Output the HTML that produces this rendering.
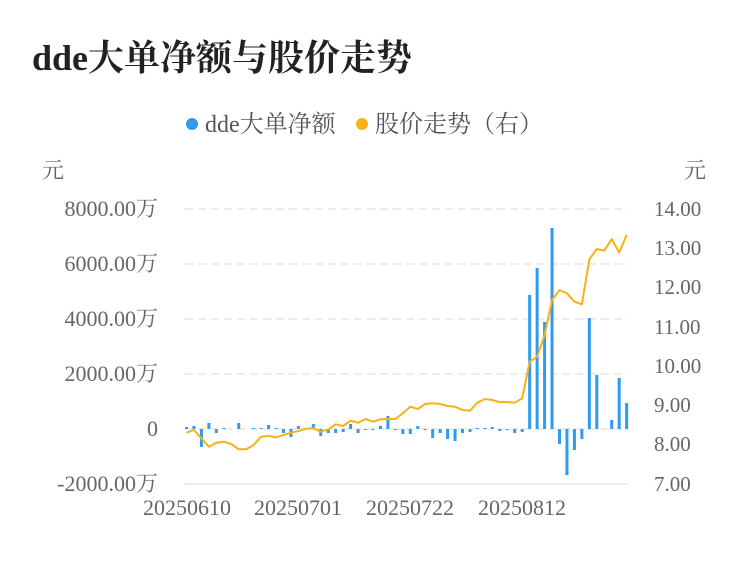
<!DOCTYPE html>
<html><head><meta charset="utf-8"><style>
body{margin:0;background:#fff;}
</style></head><body>
<svg width="750" height="558" xmlns="http://www.w3.org/2000/svg" font-family="'Liberation Serif','Noto Serif CJK SC',serif">
<text x="32" y="70" font-size="36" font-weight="bold" fill="#222">dde大单净额与股价走势</text>
<circle cx="192" cy="124" r="6" fill="#2e9bf0"/>
<text x="205" y="132" font-size="24" fill="#555">dde大单净额</text>
<circle cx="362" cy="124" r="6" fill="#f7b217"/>
<text x="375" y="132" font-size="24" fill="#555">股价走势（右）</text>
<text x="42" y="178" font-size="22" fill="#666">元</text>
<text x="684" y="178" font-size="22" fill="#666">元</text>
<g stroke="#e6e6e6" stroke-width="1.5" stroke-dasharray="8,5">
<line x1="185" y1="209" x2="628" y2="209"/><line x1="185" y1="264" x2="628" y2="264"/>
<line x1="185" y1="319" x2="628" y2="319"/><line x1="185" y1="374" x2="628" y2="374"/>
<line x1="185" y1="429" x2="628" y2="429"/></g>
<line x1="185" y1="484" x2="628" y2="484" stroke="#e6e6e6" stroke-width="1.5"/>
<g font-size="22" fill="#666" text-anchor="end">
<text x="158" y="216">8000.00万</text><text x="158" y="271">6000.00万</text>
<text x="158" y="326">4000.00万</text><text x="158" y="381">2000.00万</text>
<text x="158" y="436">0</text><text x="158" y="491">-2000.00万</text></g>
<g font-size="21" fill="#666">
<text x="654" y="216">14.00</text><text x="654" y="255">13.00</text><text x="654" y="294">12.00</text>
<text x="654" y="334">11.00</text><text x="654" y="373">10.00</text><text x="654" y="412">9.00</text>
<text x="654" y="451">8.00</text><text x="654" y="491">7.00</text></g>
<g font-size="22" fill="#666" text-anchor="middle">
<text x="187" y="515">20250610</text><text x="298" y="515">20250701</text>
<text x="410" y="515">20250722</text><text x="522" y="515">20250812</text></g>
<g id="bars" fill="#2e9bf0"></g>
<polyline id="line" fill="none" stroke="#f7b217" stroke-width="2" stroke-linejoin="round"/>
</svg>
<script>
var b={0:427,1:426,2:447,3:423,4:433,5:428,7:423,9:428,10:428,11:425,12:428,13:433,14:437,15:426,16:428,17:424,18:436,19:433,20:433,21:432,22:424,23:433,24:430,25:430,26:426,27:416,28:430,29:434,30:434,31:426,32:430,33:438,34:433,35:439,36:441,37:433,38:432,39:428,40:428,41:427,42:431,43:430,44:433,45:432,46:295,47:268,48:322,49:228,50:444,51:475,52:450,53:439,54:318,55:375,57:420,58:378,59:403};
var L=[432.7,430,438.3,446.7,442.7,441.7,444,449.3,449.3,445,436.7,436,437.3,435,432.7,431,428.7,428.3,431.7,429.3,424.3,426,420.7,422.7,419,421.7,419.3,419,419,413.3,406.7,409,404,403.3,404,406,406.7,410,410.7,402.7,399,400,402.3,402,402.7,398.3,361.7,356.7,335,300,290,293.3,301.7,304.3,259.3,249,250.7,239,252.7,235];
var g=document.getElementById('bars'),h='';
function X(i){return 186.5+i*7.46;}
for(var k in b){var y=b[k],t=Math.min(y,429),hh=Math.abs(y-429);h+='<rect x="'+(X(+k)-1.5)+'" y="'+t+'" width="3" height="'+Math.max(hh,1)+'"/>';}
g.innerHTML=h;
document.getElementById('line').setAttribute('points',L.map(function(y,i){return X(i)+','+y}).join(' '));
</script>
</body></html>
